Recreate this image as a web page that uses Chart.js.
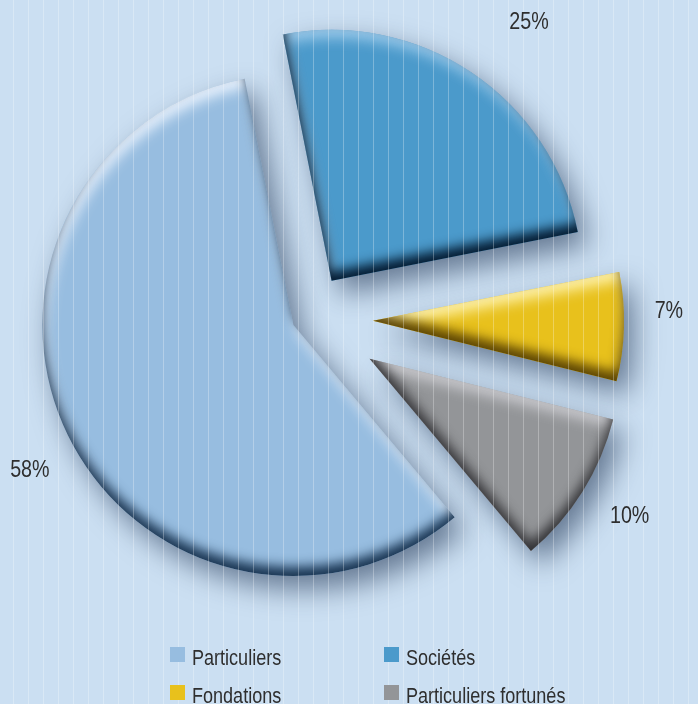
<!DOCTYPE html>
<html>
<head>
<meta charset="utf-8">
<script src="https://cdn.jsdelivr.net/npm/chart.js@4.4.0/dist/chart.umd.min.js"></script>
<style>
  html, body { margin: 0; padding: 0; background: #cbdff2; overflow: hidden; }
  canvas { display: block; }
</style>
</head>
<body>
<canvas id="pie" width="698" height="704"></canvas>
<script>
// data
const categories = ['Particuliers', 'Sociétés', 'Fondations', 'Particuliers fortunés'];
const shares = [58, 25, 7, 10];
const valueLabels = ['58%', '25%', '7%', '10%'];

// styles
const sliceColors = ['#97bde0', '#4b9acb', '#e8c11c', '#939598'];
const edgeDark = ['rgba(18,45,75,0.95)', 'rgba(3,25,48,0.98)', 'rgba(85,62,0,0.95)', 'rgba(45,45,48,0.95)'];
const edgeLight = ['rgba(238,246,255,0.95)', 'rgba(170,210,240,0.85)', 'rgba(255,244,180,0.95)', 'rgba(215,215,220,0.85)'];
const explode = [14, 46, 67, 75];               // px pushed out along mid angle
const labelNudge = [ {da: -3.3, gap: 50}, {da: 3.6, gap: 74}, {da: -3.1, gap: 45}, {da: -0.8, gap: 53} ];
const FONT = '"Liberation Sans", Arial, sans-serif';
const NARROW = 0.82;   // condensed look

function slicePath(ctx, a, sx) {
    ctx.moveTo(a.x + sx, a.y);
    ctx.arc(a.x + sx, a.y, a.outerRadius, a.startAngle, a.endAngle);
    ctx.closePath();
}

// inner shadow along one side of a slice (shape drawn far away, only its shadow lands)
function innerShade(ctx, a, color, dx, dy, blur) {
    const far = 5000;
    ctx.save();
    ctx.beginPath();
    slicePath(ctx, a, 0);
    ctx.clip();
    ctx.beginPath();
    ctx.rect(-far - 2000, -2000, 5000, 5000);
    slicePath(ctx, a, -far);
    ctx.shadowColor = color;
    ctx.shadowBlur = blur;
    ctx.shadowOffsetX = dx + far;
    ctx.shadowOffsetY = dy;
    ctx.fillStyle = '#000';
    ctx.fill('evenodd');
    ctx.restore();
}

function narrowText(ctx, text, x, y) {
    ctx.save();
    ctx.translate(x, y);
    ctx.scale(NARROW, 1);
    ctx.fillText(text, 0, 0);
    ctx.restore();
}

const explodePlugin = {
    id: 'explode',
    afterDatasetsUpdate(chart) {
        chart.getDatasetMeta(0).data.forEach((arc, i) => {
            const mid = (arc.startAngle + arc.endAngle) / 2;
            arc.x += Math.cos(mid) * explode[i];
            arc.y += Math.sin(mid) * explode[i];
        });
    }
};

const shadePlugin = {
    id: 'shade',
    beforeDatasetsDraw(chart) {
        const ctx = chart.ctx;
        ctx.save();
        ctx.shadowColor = 'rgba(35,55,85,0.6)';
        ctx.shadowBlur = 28;
        ctx.shadowOffsetX = 10;
        ctx.shadowOffsetY = 13;
    },
    afterDatasetsDraw(chart) {
        const ctx = chart.ctx;
        ctx.restore();
        chart.getDatasetMeta(0).data.forEach((a, i) => {
            innerShade(ctx, a, edgeLight[i], 4, 8, 14);
            innerShade(ctx, a, edgeDark[i], 0, -9, 12);
        });
    }
};

const decorPlugin = {
    id: 'decor',
    afterDraw(chart) {
        const ctx = chart.ctx;
        ctx.save();
        // vertical stripes over everything
        ctx.fillStyle = 'rgba(255,255,255,0.28)';
        for (let x = 13; x < chart.width; x += 15) ctx.fillRect(x, 0, 1, chart.height);

        // percentage labels
        ctx.fillStyle = '#2e2e2e';
        ctx.font = '24px ' + FONT;
        ctx.textAlign = 'center';
        ctx.textBaseline = 'middle';
        chart.getDatasetMeta(0).data.forEach((a, i) => {
            const mid = (a.startAngle + a.endAngle) / 2 + labelNudge[i].da * Math.PI / 180;
            const r = a.outerRadius + labelNudge[i].gap;
            narrowText(ctx, valueLabels[i], a.x + Math.cos(mid) * r, a.y + Math.sin(mid) * r);
        });

        // legend, two columns
        const colX = [170, 384], firstBase = 665, rowGap = 38;
        ctx.font = '22px ' + FONT;
        ctx.textAlign = 'left';
        ctx.textBaseline = 'alphabetic';
        chart.data.labels.forEach((lab, i) => {
            const x = colX[i % 2];
            const base = firstBase + Math.floor(i / 2) * rowGap;
            ctx.fillStyle = sliceColors[i];
            ctx.fillRect(x, base - 18, 15, 15);
            ctx.fillStyle = '#2e2e2e';
            narrowText(ctx, lab, x + 22, base);
        });
        ctx.restore();
    }
};

new Chart(document.getElementById('pie'), {
    type: 'pie',
    data: {
        labels: categories,
        datasets: [{
            data: shares,
            backgroundColor: sliceColors,
            borderWidth: 0,
            clip: false
        }]
    },
    options: {
        responsive: false,
        animation: false,
        rotation: 140,
        radius: 251,
        layout: { padding: { left: 0, right: 86, top: 0, bottom: 66 } },
        plugins: {
            legend: { display: false },
            tooltip: { enabled: false }
        }
    },
    plugins: [explodePlugin, shadePlugin, decorPlugin]
});
</script>
</body>
</html>
